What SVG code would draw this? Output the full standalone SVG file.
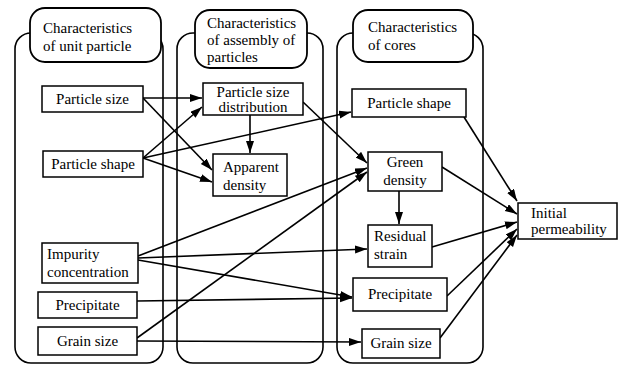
<svg xmlns="http://www.w3.org/2000/svg" width="621" height="366" viewBox="0 0 621 366">
<style>
.bg{fill:#fff}
.col{fill:none;stroke:#000;stroke-width:1.6}
.title{fill:#fff;stroke:#000;stroke-width:1.8}
.box{fill:#fff;stroke:#000;stroke-width:1.5}
text{font-family:'Liberation Serif','DejaVu Serif','Times New Roman',serif;font-size:15px;fill:#000}
.c{text-anchor:middle}
.conn line{stroke:#000;stroke-width:1.6;marker-end:url(#ah)}
</style>
<defs>
<marker id="ah" markerUnits="userSpaceOnUse" markerWidth="14" markerHeight="10" refX="12" refY="4" orient="auto">
<path d="M0,0 L12,4 L0,8 Z" fill="#000"/>
</marker>
</defs>
<rect class="bg" x="0" y="0" width="621" height="366"/>
<g id="col-unit">
<rect class="col" x="15" y="33" width="148" height="330" rx="16"/>
<rect class="title" x="30" y="8" width="131" height="54" rx="15"/>
<text x="43" y="33">Characteristics</text>
<text x="43" y="51">of unit particle</text>
</g>
<g id="col-assembly">
<rect class="col" x="177" y="33" width="146" height="330" rx="16"/>
<rect class="title" x="195" y="10" width="112" height="58" rx="15"/>
<text x="207" y="28">Characteristics</text>
<text x="207" y="45">of assembly of</text>
<text x="207" y="62">particles</text>
</g>
<g id="col-cores">
<rect class="col" x="337" y="33" width="146" height="330" rx="16"/>
<rect class="title" x="353" y="10" width="120" height="52" rx="15"/>
<text x="368" y="32">Characteristics</text>
<text x="368" y="50">of cores</text>
</g>
<g class="conn" id="connectors">
<line x1="143" y1="98" x2="202" y2="98"/>
<line x1="143" y1="98" x2="212" y2="170"/>
<line x1="143" y1="158" x2="202" y2="107"/>
<line x1="143" y1="158" x2="212" y2="182"/>
<line x1="143" y1="158" x2="351" y2="112"/>
<line x1="250" y1="115" x2="250" y2="153"/>
<line x1="303" y1="102" x2="367" y2="163"/>
<line x1="138" y1="256" x2="367" y2="168"/>
<line x1="137" y1="338" x2="367" y2="172"/>
<line x1="138" y1="258" x2="367" y2="249"/>
<line x1="138" y1="260" x2="352" y2="297"/>
<line x1="137" y1="301" x2="352" y2="298"/>
<line x1="137" y1="341" x2="361" y2="342"/>
<line x1="464" y1="117" x2="517" y2="201"/>
<line x1="442" y1="167" x2="517" y2="214"/>
<line x1="399" y1="191" x2="399" y2="224"/>
<line x1="432" y1="247" x2="517" y2="222"/>
<line x1="447" y1="296" x2="517" y2="229"/>
<line x1="440" y1="338" x2="517" y2="235"/>
</g>
<g id="n-particle-size"><rect class="box" x="42" y="86" width="101" height="26"/><text class="c" x="92.5" y="104">Particle size</text></g>
<g id="n-particle-shape-1"><rect class="box" x="43" y="151" width="100" height="26"/><text class="c" x="93" y="169">Particle shape</text></g>
<g id="n-impurity"><rect class="box" x="42" y="243" width="96" height="40"/><text x="47" y="259">Impurity</text><text x="47" y="277">concentration</text></g>
<g id="n-precipitate-1"><rect class="box" x="38" y="292" width="99" height="26"/><text class="c" x="87.5" y="310">Precipitate</text></g>
<g id="n-grain-size-1"><rect class="box" x="38" y="327" width="99" height="28"/><text class="c" x="87.5" y="346">Grain size</text></g>
<g id="n-psd"><rect class="box" x="203" y="83" width="100" height="32"/><text class="c" x="253" y="97">Particle size</text><text class="c" x="253" y="112">distribution</text></g>
<g id="n-apparent"><rect class="box" x="213" y="154" width="74" height="42"/><text x="223" y="172">Apparent</text><text x="223" y="190">density</text></g>
<g id="n-particle-shape-3"><rect class="box" x="352" y="89" width="114" height="28"/><text class="c" x="409" y="108">Particle shape</text></g>
<g id="n-green"><rect class="box" x="368" y="152" width="74" height="39"/><text class="c" x="405" y="167">Green</text><text class="c" x="405" y="185">density</text></g>
<g id="n-residual"><rect class="box" x="368" y="225" width="64" height="42"/><text x="374" y="241">Residual</text><text x="374" y="259">strain</text></g>
<g id="n-precipitate-3"><rect class="box" x="353" y="278" width="94" height="33"/><text class="c" x="400" y="299">Precipitate</text></g>
<g id="n-grain-size-3"><rect class="box" x="362" y="329" width="78" height="29"/><text class="c" x="401" y="348">Grain size</text></g>
<g id="n-initial"><rect class="box" x="518" y="203" width="99" height="36"/><text x="531" y="218">Initial</text><text x="531" y="234">permeability</text></g>
</svg>
